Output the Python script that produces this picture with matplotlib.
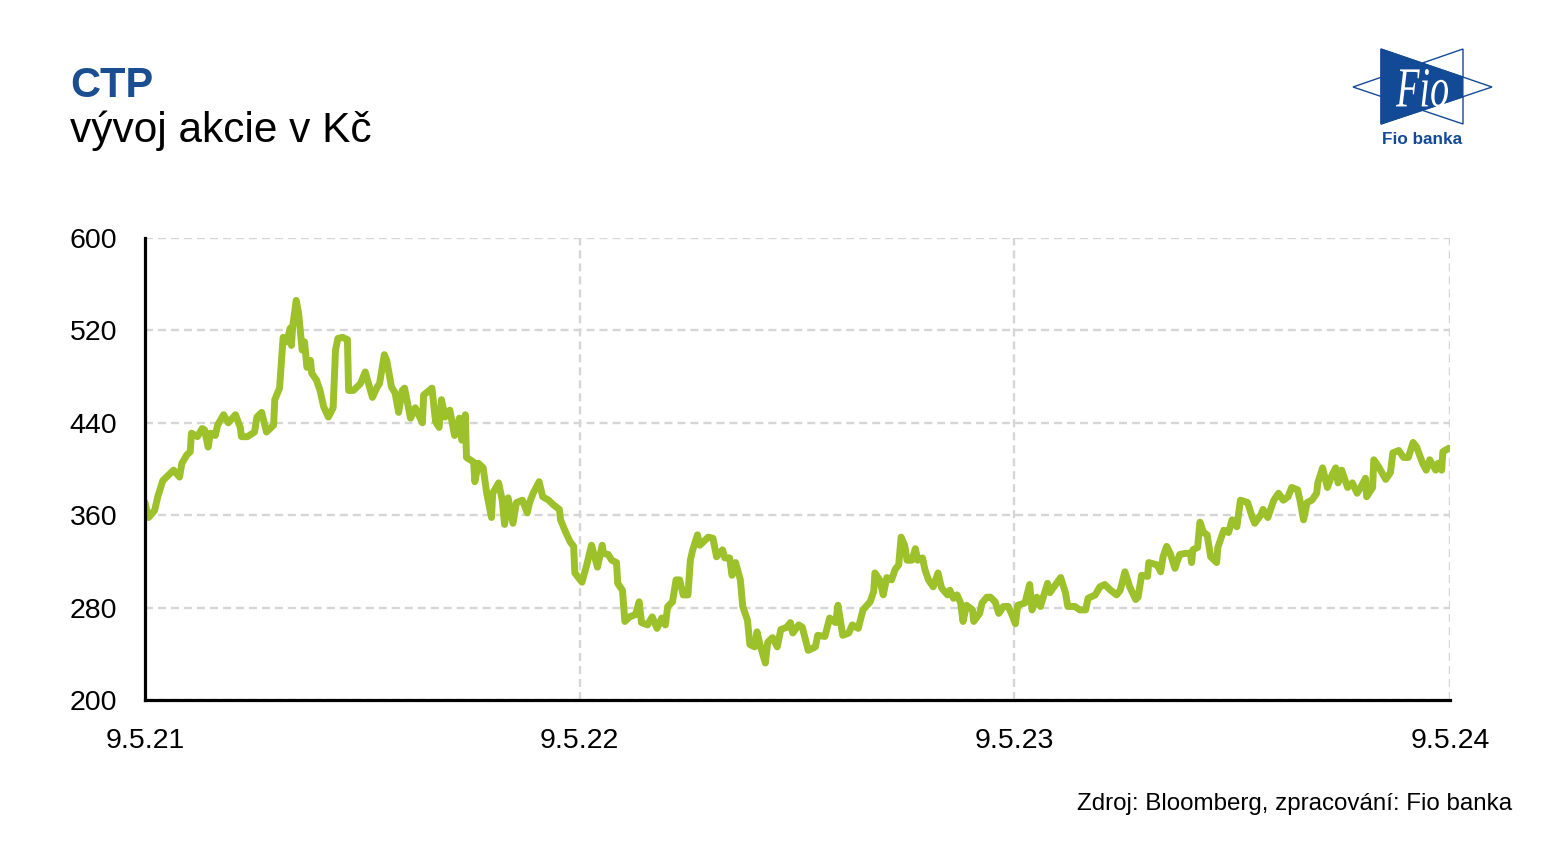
import numpy as np
import pandas as pd
import matplotlib
matplotlib.use("Agg")
import matplotlib.pyplot as plt
from matplotlib.patches import Polygon, PathPatch
from matplotlib.textpath import TextPath
from matplotlib.font_manager import FontProperties
from matplotlib.transforms import Affine2D

plt.rcParams['font.family'] = ['Liberation Sans', 'DejaVu Sans']

# ---------------- data ----------------
start_date = "2021-05-09"
# days since 9.5.21
days = [0, 3, 8, 11, 15, 18, 24, 29, 31, 35, 38, 39, 44, 48, 50, 53, 55, 59, 61, 66,
        70, 76, 80, 81, 86, 92, 94, 98, 102, 108, 109, 113, 116, 119, 122, 123, 124, 127, 129, 132,
        134, 136, 139, 140, 144, 147, 150, 154, 158, 160, 162, 166, 170, 171, 175, 181, 185, 191, 195, 197,
        201, 203, 207, 210, 213, 216, 218, 223, 227, 233, 234, 241, 244, 247, 249, 252, 256, 260, 264, 266,
        269, 270, 276, 277, 280, 284, 287, 291, 292, 297, 300, 302, 305, 309, 312, 317, 321, 323, 326, 331,
        334, 339, 343, 348, 349, 353, 357, 360, 361, 367, 371, 375, 380, 384, 385, 389, 392, 396, 397, 401,
        403, 407, 412, 415, 417, 422, 426, 430, 434, 437, 439, 443, 446, 449, 452, 456, 458, 460, 464, 466,
        473, 477, 480, 485, 487, 491, 493, 496, 500, 502, 506, 508, 512, 514, 517, 521, 523, 527, 531, 534,
        539, 542, 544, 549, 552, 557, 563, 565, 571, 575, 580, 582, 586, 591, 594, 599, 603, 609, 612, 613,
        617, 620, 623, 627, 630, 633, 635, 638, 640, 644, 647, 649, 653, 655, 658, 662, 666, 669, 674, 676,
        679, 682, 685, 687, 690, 695, 696, 701, 703, 707, 710, 714, 717, 721, 725, 728, 731, 733, 739, 743,
        745, 749, 752, 758, 760, 769, 773, 775, 781, 785, 790, 792, 798, 802, 806, 811, 816, 819, 823, 827,
        832, 834, 837, 842, 843, 850, 853, 855, 858, 861, 865, 869, 874, 878, 879, 880, 884, 886, 889, 892,
        895, 900, 901, 906, 910, 913, 917, 920, 926, 930, 932, 937, 939, 943, 948, 952, 956, 960, 963, 968,
        970, 973, 976, 980, 984, 985, 989, 993, 997, 1000, 1002, 1005, 1010, 1014, 1018, 1021, 1025, 1026, 1031, 1032,
        1036, 1042, 1046, 1048, 1053, 1057, 1061, 1065, 1068, 1073, 1076, 1079, 1084, 1086, 1089, 1090, 1095]
price = [371, 358, 364, 377, 390, 393, 399, 393, 405, 412, 415, 431, 428, 435, 434, 419, 431, 429, 438, 447,
         440, 447, 436, 428, 428, 432, 445, 449, 432, 438, 460, 470, 514, 510, 522, 507, 523, 546, 535, 503,
         510, 488, 494, 483, 477, 468, 454, 445, 453, 503, 513, 514, 512, 468, 468, 474, 484, 462, 471, 474,
         499, 494, 471, 466, 449, 468, 470, 444, 453, 440, 464, 470, 441, 436, 460, 445, 451, 429, 444, 425,
         447, 410, 406, 389, 405, 401, 379, 358, 379, 388, 373, 352, 375, 353, 371, 373, 362, 371, 379, 389,
         376, 373, 369, 365, 356, 346, 337, 333, 310, 302, 317, 334, 315, 334, 327, 326, 321, 319, 301, 295,
         268, 272, 274, 285, 267, 265, 272, 262, 271, 265, 281, 285, 304, 304, 291, 291, 321, 330, 343, 334,
         341, 340, 324, 330, 323, 323, 308, 319, 304, 281, 269, 248, 246, 259, 246, 232, 250, 254, 246, 261,
         263, 267, 258, 265, 263, 243, 246, 256, 255, 271, 267, 282, 256, 258, 265, 262, 278, 285, 294, 310,
         304, 291, 306, 304, 313, 317, 341, 334, 321, 321, 331, 321, 323, 313, 304, 298, 310, 297, 291, 295,
         288, 291, 284, 268, 282, 278, 268, 275, 284, 289, 289, 285, 275, 281, 281, 274, 266, 282, 284, 300,
         278, 289, 281, 301, 293, 306, 293, 281, 281, 278, 278, 288, 291, 298, 300, 295, 291, 295, 311, 298,
         287, 289, 308, 307, 319, 317, 311, 324, 333, 327, 314, 326, 327, 327, 319, 330, 332, 354, 345, 343,
         324, 319, 332, 347, 345, 356, 350, 373, 371, 358, 353, 360, 365, 358, 373, 379, 373, 376, 384, 382,
         373, 356, 371, 373, 379, 388, 401, 384, 395, 401, 388, 399, 384, 388, 379, 384, 392, 376, 384, 408,
         402, 391, 397, 414, 416, 410, 410, 423, 419, 405, 399, 408, 399, 405, 399, 415, 418]

tick_dates = ["2021-05-09", "2022-05-09", "2023-05-09", "2024-05-09"]
tick_labels = ["9.5.21", "9.5.22", "9.5.23", "9.5.24"]
y_ticks = [200, 280, 360, 440, 520, 600]

title = "CTP"
subtitle = "vývoj akcie v Kč"
source = "Zdroj: Bloomberg, zpracování: Fio banka"

# ---------------- styling ----------------
LINE_COLOR = "#9DC12B"
BLUE = "#1A4E91"
LOGO_BLUE = "#124A96"
GRID = "#D6D6D6"

W, H = 1549, 856
fig = plt.figure(figsize=(W / 100, H / 100), dpi=100)
fig.patch.set_facecolor("white")

ax = fig.add_axes([145 / W, 1 - 700 / H, (1450 - 145) / W, (700 - 238) / H])

x = pd.Timestamp(start_date) + pd.to_timedelta(days, unit="D")
ax.plot(x, price, color=LINE_COLOR, lw=5.0, solid_joinstyle="round",
        solid_capstyle="round", zorder=3)

tdates = pd.to_datetime(tick_dates)
ax.set_xlim(tdates[0], tdates[-1])
ax.set_ylim(200, 600)
ax.set_xticks(tdates)
ax.set_xticklabels(tick_labels)
ax.set_yticks(y_ticks)
ax.set_yticklabels([str(v) for v in y_ticks])

ax.tick_params(axis="x", length=0, pad=20, labelsize=20.5)
ax.tick_params(axis="y", length=0, pad=20, labelsize=20.5)

ax.grid(True, color=GRID, lw=1.7, linestyle=(0, (3.4, 2.1)), zorder=1)
ax.set_axisbelow(True)
for s in ["top", "right"]:
    ax.spines[s].set_visible(False)
for s in ["left", "bottom"]:
    ax.spines[s].set_color("black")
    ax.spines[s].set_linewidth(2.3)
    ax.spines[s].set_zorder(4)

# ---------------- texts ----------------
fig.text(70 / W, 1 - 97 / H, title, fontsize=30, fontweight="bold", color=BLUE,
         ha="left", va="baseline")
fig.text(70 / W, 1 - 142 / H, subtitle, fontsize=30.5, color="black",
         ha="left", va="baseline")
fig.text(1512 / W, 1 - 810 / H, source, fontsize=17.4, color="black",
         ha="right", va="baseline")

# ---------------- logo ----------------
lax = fig.add_axes([0, 0, 1, 1], zorder=5)
lax.set_xlim(0, W)
lax.set_ylim(H, 0)
lax.axis("off")
lax.patch.set_alpha(0)

triA = [(1381, 49), (1381, 124), (1492, 87)]   # right-pointing
triB = [(1463, 49), (1463, 124), (1353, 87)]   # left-pointing
lax.add_patch(Polygon(triB, closed=True, facecolor="white", edgecolor=LOGO_BLUE, lw=1.0))
lax.add_patch(Polygon(triA, closed=True, facecolor="white", edgecolor=LOGO_BLUE, lw=1.0))
trap = [(1381, 49), (1463, 77), (1463, 97), (1381, 124)]
lax.add_patch(Polygon(trap, closed=True, facecolor=LOGO_BLUE, edgecolor=LOGO_BLUE, lw=0.8))

fp = FontProperties(family="Liberation Serif", style="italic")
tp = TextPath((0, 0), "Fio", size=40, prop=fp)
bb = tp.get_extents()
sx = 52 / bb.width
sy = 38 / bb.height
tr = Affine2D().translate(-bb.x0, -bb.y0).scale(sx, -sy).translate(1396, 107)
lax.add_patch(PathPatch(tr.transform_path(tp), facecolor="white", edgecolor="none"))

lax.text(1422, 144, "Fio banka", fontsize=12.3, fontweight="bold", color=LOGO_BLUE,
         ha="center", va="baseline")

fig.savefig("out.png", dpi=100, facecolor="white")
